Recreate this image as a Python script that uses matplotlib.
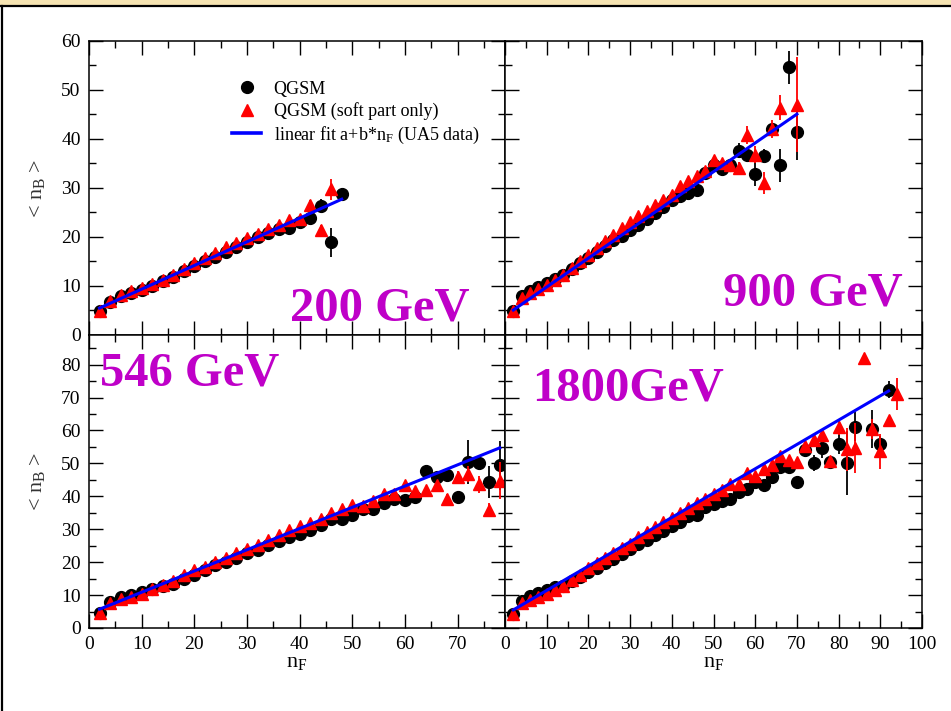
import numpy as np
import matplotlib
matplotlib.use("Agg")
import matplotlib.pyplot as plt
from matplotlib.patches import Rectangle
from matplotlib.lines import Line2D
from matplotlib.ticker import MultipleLocator

plt.rcParams['font.family'] = ['Liberation Serif', 'DejaVu Serif']
plt.rcParams['mathtext.fontset'] = 'custom'
plt.rcParams['mathtext.rm'] = 'Liberation Serif'
plt.rcParams['mathtext.it'] = 'Liberation Serif:italic'

# ---- 200 GeV ----
nf_200 = [2, 4, 6, 8, 10, 12, 14, 16, 18, 20, 22, 24, 26, 28, 30, 32, 34, 36, 38, 40, 42, 44, 46, 48]
qgsm_200 = [4.9, 6.8, 7.9, 8.5, 9.2, 10.1, 11.1, 11.9, 13.1, 14.1, 15.2, 15.9, 16.9, 18.0, 19.0, 20.0,
            20.8, 21.6, 21.8, 23.0, 23.9, 26.3, 18.9, 28.8]
qgsm_200_err = [0.2] * 20 + [0.5, 1.4, 2.9, 0.8]
nf_soft_200 = [2, 4, 6, 8, 10, 12, 14, 16, 18, 20, 22, 24, 26, 28, 30, 32, 34, 36, 38, 40, 42, 44, 46]
soft_200 = [4.9, 7.0, 8.2, 8.9, 9.6, 10.4, 11.3, 12.3, 13.4, 14.7, 15.7, 16.8, 17.9, 18.8, 19.8, 20.7,
            21.7, 22.5, 23.4, 23.7, 26.6, 21.4, 29.7]
soft_200_err = [0.2] * 20 + [1.0, 1.1, 2.2]
fit_200 = (4.53, 0.483, 2, 48)   # a, b, n_F range

# ---- 900 GeV ----
nf_900 = [2, 4, 6, 8, 10, 12, 14, 16, 18, 20, 22, 24, 26, 28, 30, 32, 34, 36, 38, 40, 42, 44, 46, 48,
          50, 52, 54, 56, 58, 60, 62, 64, 66, 68, 70]
qgsm_900 = [4.8, 7.9, 8.9, 9.8, 10.6, 11.4, 12.3, 13.4, 14.6, 15.7, 16.9, 18.1, 19.3, 20.3, 21.5, 22.5,
            23.6, 24.9, 26.2, 27.5, 28.4, 28.9, 29.6, 33.0, 34.6, 33.8, 34.6, 37.6, 36.7, 32.9, 36.5,
            42.0, 34.6, 54.6, 41.5]
qgsm_900_err = [0.2] * 23 + [0.5, 0.6, 0.6, 0.8, 1.5, 1.3, 2.4, 1.5, 1.2, 3.3, 3.3, 5.8]
nf_soft_900 = [2, 4, 6, 8, 10, 12, 14, 16, 18, 20, 22, 24, 26, 28, 30, 32, 34, 36, 38, 40, 42, 44, 46, 48,
               50, 52, 54, 56, 58, 60, 62, 64, 66, 70]
soft_900 = [4.8, 7.6, 8.6, 9.4, 10.3, 11.2, 12.3, 13.7, 15.0, 16.4, 17.8, 19.2, 20.5, 21.9, 23.0, 24.2,
            25.3, 26.6, 27.6, 28.6, 30.5, 31.4, 32.4, 33.5, 35.7, 35.2, 34.6, 34.1, 40.8, 36.8, 31.0,
            42.1, 46.4, 47.0]
soft_900_err = [0.2] * 22 + [0.4, 0.5, 0.8, 0.8, 1.0, 1.3, 1.8, 1.8, 2.2, 1.8, 2.5, 9.7]
fit_900 = (3.92, 0.588, 2, 70)

# ---- 546 GeV ----
nf_546 = [2, 4, 6, 8, 10, 12, 14, 16, 18, 20, 22, 24, 26, 28, 30, 32, 34, 36, 38, 40, 42, 44, 46, 48,
          50, 52, 54, 56, 58, 60, 62, 64, 66, 68, 70, 72, 74, 76, 78]
qgsm_546 = [4.6, 8.0, 9.3, 10.0, 11.0, 11.7, 12.7, 13.5, 15.0, 16.0, 17.5, 19.0, 20.0, 21.3, 22.8, 23.8,
            25.3, 26.3, 27.7, 28.7, 29.7, 31.4, 33.2, 33.2, 34.2, 36.2, 36.2, 37.9, 39.3, 39.0, 39.8,
            47.7, 45.8, 46.4, 39.8, 50.4, 50.1, 44.3, 49.4]
qgsm_546_err = [0.2] * 31 + [1.0, 1.8, 2.0, 1.0, 6.8, 1.5, 4.8, 7.5]
soft_546 = [4.6, 7.7, 8.7, 9.5, 10.3, 11.7, 13.0, 14.3, 16.0, 17.6, 18.4, 20.1, 21.3, 22.8, 24.1, 25.3,
            26.8, 28.2, 29.7, 30.9, 31.9, 33.2, 34.9, 36.2, 37.5, 37.2, 38.5, 40.7, 40.7, 43.3, 41.6,
            41.8, 43.3, 39.3, 45.8, 46.8, 43.6, 35.9, 44.8]
soft_546_err = [0.2] * 29 + [0.8, 0.8, 0.8, 1.2, 1.5, 2.0, 2.5, 2.5, 2.0, 5.5]
fit_546 = (4.41, 0.645, 2, 78)

# ---- 1800 GeV ----
nf_1800 = [2, 4, 6, 8, 10, 12, 14, 16, 18, 20, 22, 24, 26, 28, 30, 32, 34, 36, 38, 40, 42, 44, 46, 48,
           50, 52, 54, 56, 58, 60, 62, 64, 66, 68, 70, 72, 74, 76, 78, 80, 82, 84, 88, 90, 92]
qgsm_1800 = [4.4, 8.2, 9.6, 10.6, 11.4, 12.4, 12.9, 14.2, 15.4, 16.9, 18.2, 19.6, 20.9, 22.4, 23.9, 25.4,
             26.6, 28.2, 29.6, 30.9, 32.3, 34.0, 34.3, 36.7, 37.7, 38.5, 39.3, 41.4, 42.1, 44.4, 43.4,
             45.8, 48.8, 48.8, 44.5, 54.1, 50.1, 54.7, 50.4, 55.9, 50.1, 61.2, 60.4, 55.8, 72.4]
qgsm_1800_err = [0.2] * 30 + [0.8, 0.8, 0.8, 0.8, 1.0, 1.5, 2.5, 3.0, 1.5, 3.0, 9.8, 4.5, 5.8, 2.5, 2.5]
nf_soft_1800 = [2, 4, 6, 8, 10, 12, 14, 16, 18, 20, 22, 24, 26, 28, 30, 32, 34, 36, 38, 40, 42, 44, 46, 48,
                50, 52, 54, 56, 58, 60, 62, 64, 66, 68, 70, 72, 74, 76, 78, 80, 82, 84, 86, 88, 90, 92, 94]
soft_1800 = [4.4, 7.5, 8.6, 9.4, 10.4, 11.6, 12.9, 14.6, 16.2, 18.2, 19.6, 21.3, 22.8, 24.4, 25.6, 27.5,
             29.2, 30.7, 32.2, 33.5, 35.0, 36.3, 38.0, 39.3, 40.8, 42.0, 43.6, 43.6, 47.1, 46.1, 48.4,
             49.4, 52.2, 50.9, 50.4, 55.4, 57.0, 58.5, 50.6, 61.0, 54.3, 54.7, 82.0, 60.5, 53.7, 63.2, 71.1]
soft_1800_err = [0.2] * 28 + [0.8, 0.8, 0.8, 0.8, 1.0, 1.0, 1.0, 1.5, 1.5, 1.5, 1.5, 2.5, 6.5, 7.5, 0.0,
                              3.0, 5.3, 0.5, 4.8]
fit_1800 = (4.02, 0.739, 2, 92)

MAGENTA = '#BF00C8'
MS = 8.5

fig = plt.figure(figsize=(9.51, 7.11), dpi=100)

# slide frame: beige strip on top, black rules on top and left
fig.patches.append(Rectangle((0, 1 - 5 / 711), 1, 5 / 711, transform=fig.transFigure,
                             facecolor='#F6E4B2', edgecolor='none', zorder=0))
fig.lines.append(Line2D([0, 1], [1 - 6 / 711] * 2, transform=fig.transFigure, color='black', lw=1.6))
fig.lines.append(Line2D([1.5 / 951] * 2, [0, 1 - 6 / 711], transform=fig.transFigure, color='black', lw=1.6))

L0, LW = 89 / 951, 416 / 951
R0, RW = 505 / 951, 417 / 951
T0, TH = 1 - 335 / 711, 294 / 711
B0, BH = 1 - 628 / 711, 293 / 711

ax_tl = fig.add_axes([L0, T0, LW, TH])
ax_tr = fig.add_axes([R0, T0, RW, TH])
ax_bl = fig.add_axes([L0, B0, LW, BH])
ax_br = fig.add_axes([R0, B0, RW, BH])


def panel(ax, nf, qgsm, qerr, nf_soft, soft, serr, fit, xmax, ymax):
    ax.errorbar(nf, qgsm, yerr=qerr, fmt='o', ms=MS, color='black', ecolor='black',
                elinewidth=1.3, capsize=0, zorder=3)
    ax.errorbar(nf_soft, soft, yerr=serr, fmt='^', ms=MS, color='red', ecolor='red',
                elinewidth=1.3, capsize=0, zorder=4)
    a, b, x0, x1 = fit
    xs = np.array([x0, x1])
    ax.plot(xs, a + b * xs, color='#0000FF', lw=2.2, zorder=5)
    ax.set_xlim(0, xmax)
    ax.set_ylim(0, ymax)
    ax.xaxis.set_major_locator(MultipleLocator(10))
    ax.xaxis.set_minor_locator(MultipleLocator(5))
    ax.yaxis.set_major_locator(MultipleLocator(10))
    ax.yaxis.set_minor_locator(MultipleLocator(5))
    ax.tick_params(which='both', direction='in', top=True, right=True, width=1.0)
    ax.tick_params(which='major', length=10, labelsize=14, pad=6)
    ax.tick_params(which='minor', length=5)
    for s in ax.spines.values():
        s.set_linewidth(1.1)


panel(ax_tl, nf_200, qgsm_200, qgsm_200_err, nf_soft_200, soft_200, soft_200_err, fit_200, 79, 60)
panel(ax_tr, nf_900, qgsm_900, qgsm_900_err, nf_soft_900, soft_900, soft_900_err, fit_900, 100, 60)
panel(ax_bl, nf_546, qgsm_546, qgsm_546_err, nf_546, soft_546, soft_546_err, fit_546, 79, 89)
panel(ax_br, nf_1800, qgsm_1800, qgsm_1800_err, nf_soft_1800, soft_1800, soft_1800_err, fit_1800, 100, 89)

for ax in (ax_tl, ax_tr):
    ax.tick_params(labelbottom=False)
for ax in (ax_tr, ax_br):
    ax.tick_params(labelleft=False)

for ax in (ax_tl, ax_bl):
    ax.set_ylabel(r'< n$_{\rm B}$ >', fontsize=16, color='#333333')
    ax.yaxis.set_label_coords(-0.1, 0.5)
for ax in (ax_bl, ax_br):
    ax.set_xlabel(r'n$_{\rm F}$', fontsize=16)
    ax.xaxis.set_label_coords(0.5, -0.085)

handles = [
    Line2D([], [], ls='none', marker='o', ms=MS, color='black'),
    Line2D([], [], ls='none', marker='^', ms=MS, color='red'),
    Line2D([], [], color='#0000FF', lw=2.6),
]
labels = ['QGSM', 'QGSM (soft part only)', r'linear fit a+b*n$_{\rm F}$ (UA5 data)']
ax_tl.legend(handles, labels, loc='upper left', bbox_to_anchor=(0.344, 0.865), frameon=False,
             fontsize=13, handlelength=1.6, handletextpad=0.7, labelspacing=0.25, borderpad=0,
             borderaxespad=0, numpoints=1)

big = dict(fontsize=35, fontweight='bold', color=MAGENTA, va='baseline', ha='left')
ax_tl.text(0.483, 0.051, '200 GeV', transform=ax_tl.transAxes, **big)
ax_tr.text(0.523, 0.102, '900 GeV', transform=ax_tr.transAxes, **big)
ax_bl.text(0.026, 0.829, '546 GeV', transform=ax_bl.transAxes, **big)
ax_br.text(0.065, 0.775, '1800GeV', transform=ax_br.transAxes, **big)

fig.savefig('out.png', dpi=100)
